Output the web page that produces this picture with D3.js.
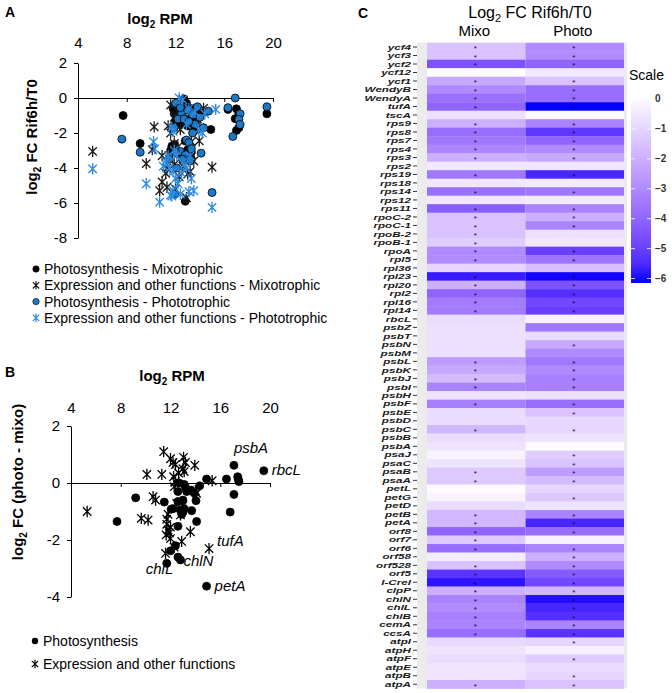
<!DOCTYPE html>
<html><head><meta charset="utf-8">
<script src="https://cdn.jsdelivr.net/npm/d3@7"></script>
<style>
body{margin:0;background:#fff;}
svg{font-family:"Liberation Sans",Arial,sans-serif;}
</style></head>
<body>
<svg id="chart" width="672" height="693"></svg>
<script>
// ---------- Panel A data: [log2 RPM, log2 FC Rif6h/T0] ----------
const photoMixoA = [[7.7,-1.0],[9.1,-2.6],[19.5,-0.9],[16.3,-0.65],[17.0,-0.62],[17.2,-0.9],[16.9,-1.18],[17.2,-1.7],[17.0,-1.85],[14.9,-1.8],[12.7,-0.05],[12.1,-0.35],[13.7,-0.75],[11.9,-0.9],[12.5,-1.5],[13.2,-1.2],[14.1,-0.85],[12.9,-0.3],[13.4,-0.6],[11.8,-0.6],[12.3,-1.0],[13.0,-1.6],[13.6,-1.3],[11.7,-2.75],[12.0,-2.9],[12.8,-2.45],[13.0,-2.95],[12.2,-3.2],[11.6,-3.0],[12.6,-3.4],[13.3,-3.1],[12.8,-5.9],[11.9,-2.65],[13.5,-1.9],[12.4,-0.7],[14.4,-0.8],[12.0,-1.3],[13.3,-3.5]];
const exprMixoA = [[5.2,-3.05],[10.25,-1.65],[9.6,-3.75],[10.1,-2.95],[10.7,-5.3],[11.3,-5.1],[15.0,-3.95],[13.95,-2.45],[13.5,-3.6],[13.0,-4.35],[12.9,-5.7],[12.6,-0.1],[11.6,-0.4],[12.2,-0.8],[14.3,-0.6],[13.8,-1.2],[11.4,-1.6],[12.4,-1.8],[11.6,-2.0],[10.9,-3.3],[11.2,-4.3],[11.9,-3.8],[12.3,-4.5],[12.6,-3.9],[11.3,-4.0],[12.0,-5.2],[13.2,-4.2],[13.6,-0.9],[12.9,-1.3],[11.9,-1.1],[13.3,-2.5],[12.2,-2.8],[11.9,-2.6],[12.9,-0.6],[14.0,-1.7],[11.5,-3.5],[10.9,-4.8]];
const photoPhotoA = [[7.6,-2.35],[9.1,-3.1],[19.5,-0.5],[16.3,-0.55],[16.9,0.0],[17.3,-0.9],[17.2,-1.22],[17.3,-1.52],[16.7,-2.2],[14.1,-3.15],[15.0,-5.4],[11.95,-5.5],[14.7,-0.75],[12.0,-0.3],[12.5,-0.9],[13.0,-0.7],[13.4,-0.95],[12.2,-1.2],[13.6,-1.5],[12.7,-1.2],[14.0,-1.1],[13.1,-1.35],[12.4,-0.55],[13.8,-0.5],[11.9,-1.7],[13.4,-2.0],[12.9,-2.4],[13.1,-2.55],[12.4,-3.05],[12.8,-3.25],[13.2,-3.6],[12.0,-3.1],[12.6,-3.5],[11.5,-3.5],[13.3,-2.9],[12.1,-4.0],[14.3,-1.7]];
const exprPhotoA = [[5.2,-4.05],[9.6,-4.9],[10.2,-2.5],[10.3,-2.9],[10.7,-5.95],[11.6,-5.55],[13.1,-5.35],[13.5,-5.3],[15.0,-6.25],[15.3,-0.65],[12.3,0.0],[12.6,-0.1],[13.1,-0.6],[14.4,-0.9],[11.7,-1.7],[11.8,-1.9],[11.9,-3.0],[11.2,-3.6],[11.0,-3.9],[11.5,-4.0],[11.8,-4.2],[12.0,-4.6],[12.2,-4.9],[11.8,-5.3],[12.5,-4.3],[12.7,-3.8],[13.2,-3.3],[13.3,-4.6],[12.4,-5.5],[12.9,-1.5],[13.9,-1.8],[14.2,-2.0],[13.6,-0.8],[11.4,-3.3],[12.9,-4.0],[11.7,-5.6],[12.1,-3.3]];
const legendA = ["Photosynthesis - Mixotrophic","Expression and other functions - Mixotrophic","Photosynthesis - Phototrophic","Expression and other functions - Phototrophic"];

// ---------- Panel B data: [log2 RPM, log2 FC (photo - mixo)] ----------
const photoB = [[17.1,0.62],[19.5,0.43],[17.4,0.22],[17.45,0.13],[17.5,0.05],[16.5,0.14],[14.9,0.14],[17.1,-0.4],[16.8,-1.02],[9.2,-0.52],[7.7,-1.35],[11.5,-0.67],[13.1,-0.05],[13.2,-0.15],[12.6,-0.3],[13.65,-0.25],[13.9,-0.35],[14.35,-0.1],[12.6,-0.65],[13.0,-0.6],[12.05,-0.92],[12.8,-0.95],[13.0,-1.02],[13.1,-0.9],[13.7,-0.97],[14.1,-1.35],[12.6,-1.52],[12.4,-2.2],[12.0,-2.38],[12.6,-2.6],[12.8,-2.7],[11.7,-2.82],[14.9,-3.62],[14.05,-0.62],[12.2,-0.9],[12.9,-1.1],[13.3,-0.3],[12.7,0.0]];
const exprB = [[5.3,-1.0],[9.65,-1.24],[10.2,-1.3],[10.1,0.3],[10.6,-0.48],[10.8,-0.6],[11.3,0.3],[11.45,1.1],[12.0,0.85],[12.2,0.72],[12.4,0.65],[12.65,0.35],[13.0,0.5],[13.05,0.9],[13.2,0.72],[13.95,0.62],[12.25,0.22],[12.4,0.05],[12.3,-0.13],[15.35,0.08],[12.5,-0.72],[14.0,-0.27],[14.1,-0.36],[11.7,-1.27],[11.7,-1.45],[11.8,-1.65],[11.65,-1.82],[11.9,-1.75],[12.8,-1.12],[13.6,-1.71],[12.9,-2.05],[12.3,-2.25],[11.6,-2.47],[15.1,-2.3],[11.8,-1.1],[12.0,-1.55],[13.1,0.4],[12.0,-1.95],[13.0,-0.8]];
const labelsB = [{t:"psbA",x:17.1,y:0.62},{t:"rbcL",x:19.5,y:0.43},{t:"tufA",x:15.1,y:-2.3},{t:"chlN",x:12.8,y:-2.7},{t:"chlL",x:11.7,y:-2.82},{t:"petA",x:14.9,y:-3.62}];
const legendB = ["Photosynthesis","Expression and other functions"];

// ---------- Panel C data ----------
const genes = ["ycf4","ycf3","ycf2","ycf12","ycf1","WendyB","WendyA","tufA","tscA","rps9","rps8","rps7","rps4","rps3","rps2","rps19","rps18","rps14","rps12","rps11","rpoC-2","rpoC-1","rpoB-2","rpoB-1","rpoA","rpl5","rpl36","rpl23","rpl20","rpl2","rpl16","rpl14","rbcL","psbZ","psbT","psbN","psbM","psbL","psbK","psbJ","psbI","psbH","psbF","psbE","psbD","psbC","psbB","psbA","psaJ","psaC","psaB","psaA","petL","petG","petD","petB","petA","orf8","orf7","orf6","orf58","orf528","orf5","I-CreI","clpP","chlN","chlL","chlB","cemA","ccsA","atpI","atpH","atpF","atpE","atpB","atpA"];
const fcMixo = [-1.5,-1.5,-4.5,0.05,-2.2,-3.0,-3.7,-4.0,-0.7,-2.0,-3.8,-3.5,-3.1,-2.0,-0.5,-3.5,-0.5,-3.7,-0.5,-4.2,-1.5,-1.5,-1.5,-1.2,-3.0,-3.0,-1.0,-5.8,-2.0,-4.0,-3.4,-3.4,-0.8,-0.7,-0.7,-0.7,-0.7,-2.5,-2.2,-1.7,-3.2,-0.6,-3.3,-0.8,-0.8,-1.8,-0.8,-0.6,-0.2,-0.6,-1.3,-1.3,0.0,-0.2,-0.8,-1.8,-1.8,-4.0,-1.3,-3.8,-0.4,-1.5,-5.3,-5.9,-2.0,-3.2,-3.0,-3.3,-3.2,-3.8,-0.9,-0.6,-0.8,-0.6,-0.6,-2.0];
const fcPhoto = [-3.0,-3.0,-4.0,-0.5,-1.5,-3.8,-3.8,-6.3,0.0,-3.2,-5.2,-4.0,-3.0,-2.2,-0.5,-5.6,-0.4,-3.5,-0.4,-3.2,-2.0,-3.2,-0.7,-0.5,-5.0,-3.6,-1.6,-6.1,-4.5,-5.4,-4.8,-5.0,-0.2,-3.5,-0.8,-2.2,-3.0,-3.5,-3.0,-3.3,-3.3,-0.7,-3.8,-1.5,-0.9,-1.0,-0.6,0.0,-1.2,-1.5,-2.5,-1.7,-1.0,-1.3,-0.6,-3.2,-5.6,-3.8,-0.3,-3.2,-2.0,-3.0,-4.3,-4.8,-1.8,-6.0,-5.6,-5.4,-3.2,-5.3,-1.0,-0.3,-1.2,-0.8,-1.0,-1.5];
const sigMixo = [1,1,1,0,1,1,1,1,0,1,1,1,1,1,0,1,0,1,0,1,1,1,1,1,1,1,0,1,1,1,1,1,0,0,0,0,0,1,1,1,1,0,1,0,0,1,0,0,0,0,1,1,0,0,0,1,1,1,1,1,0,1,1,1,1,1,1,1,1,1,0,0,0,0,0,1];
const sigPhoto = [1,1,1,0,1,1,1,1,0,1,1,1,1,1,0,1,0,1,0,1,1,1,0,0,1,1,0,1,1,1,1,1,0,0,0,1,0,1,1,1,1,0,1,1,0,1,0,0,1,1,1,1,0,1,0,1,1,1,0,1,1,1,1,1,1,1,1,1,1,1,1,0,1,0,1,1];
const conditions = ["Mixo","Photo"];
const scaleTicks = [0,-1,-2,-3,-4,-5,-6];

// ---------- drawing ----------
const svg = d3.select("#chart");
const fmt = d => String(d);
const starPath = s => `M${-s},${-s}L${s},${s}M${-s},${s}L${s},${-s}M0,${-s*1.35}L0,${s*1.35}`;
const blueDot = "#1f78c4", blueStar = "#2a8ae0";

function drawScatter(cfg){
  const g = svg.append("g");
  const x = d3.scaleLinear([4,20],[cfg.x0,cfg.x1]);
  const y = d3.scaleLinear(cfg.ydom,[cfg.yb,cfg.yt]);
  const top = g.append("g").attr("transform",`translate(0,${cfg.labY})`)
    .call(d3.axisTop(x).tickValues([4,8,12,16,20]).tickSize(0).tickPadding(0).tickFormat(fmt));
  top.select(".domain").remove();
  top.selectAll("text").attr("font-size",15).attr("fill","#000").attr("font-family","Liberation Sans, Arial");
  const zx = g.append("g").attr("transform",`translate(0,${y(0)})`)
    .call(d3.axisBottom(x).tickValues([8,12,16,20]).tickSizeInner(4).tickSizeOuter(0).tickFormat(""));
  zx.select(".domain").attr("stroke","#000");
  const ya = g.append("g").attr("transform",`translate(${cfg.x0},0)`)
    .call(d3.axisLeft(y).tickValues(cfg.yticks).tickSizeInner(4).tickSizeOuter(0).tickPadding(7).tickFormat(fmt));
  ya.selectAll("text").attr("font-size",15).attr("fill","#000").attr("font-family","Liberation Sans, Arial");
  const t = g.append("text").attr("x",cfg.titleX).attr("y",cfg.titleY).attr("text-anchor","middle")
    .attr("font-weight","bold").attr("font-size",15);
  t.append("tspan").text("log");
  t.append("tspan").attr("font-size",10).attr("dy",4).text("2");
  t.append("tspan").attr("dy",-4).text(" RPM");
  const yt = g.append("text").attr("transform",`translate(${cfg.ytX},${cfg.ytY}) rotate(-90)`)
    .attr("text-anchor","middle").attr("font-weight","bold").attr("font-size",15);
  yt.append("tspan").text("log");
  yt.append("tspan").attr("font-size",10).attr("dy",4).text("2");
  yt.append("tspan").attr("dy",-4).text(cfg.yTitle);
  g.append("text").attr("x",5).attr("y",cfg.letterY).attr("font-weight","bold").attr("font-size",14).text(cfg.letter);
  return {g,x,y};
}

// Panel A
const A = drawScatter({x0:78,x1:273,ydom:[-8,2],yb:238,yt:63,labY:48,yticks:[2,0,-2,-4,-6,-8],
  titleX:160,titleY:24,ytX:37,ytY:137,yTitle:" FC Rif6h/T0",letter:"A",letterY:17});
function dots(p,data,fill,stroke,r){
  p.g.append("g").selectAll("circle").data(data).join("circle")
    .attr("cx",d=>p.x(d[0])).attr("cy",d=>p.y(d[1])).attr("r",r).attr("fill",fill).attr("stroke",stroke).attr("stroke-width",0.8);
}
function stars(p,data,color,s){
  p.g.append("g").selectAll("path").data(data).join("path")
    .attr("transform",d=>`translate(${p.x(d[0])},${p.y(d[1])})`).attr("d",starPath(s))
    .attr("fill","none").attr("stroke",color).attr("stroke-width",1.3);
}
dots(A,photoMixoA,"#000","#000",4);
stars(A,exprMixoA,"#1a1a1a",4.2);
dots(A,photoPhotoA,blueDot,"#000",4);
stars(A,exprPhotoA,blueStar,4.2);

const lgA = svg.append("g");
legendA.forEach((t,i)=>{
  const yy = 269 + i*16.3;
  if(i%2===0) lgA.append("circle").attr("cx",36).attr("cy",yy).attr("r",3.2).attr("fill",i===0?"#000":blueDot).attr("stroke","#000").attr("stroke-width",0.6);
  else lgA.append("path").attr("transform",`translate(36,${yy})`).attr("d",starPath(3.2)).attr("stroke",i===1?"#1a1a1a":blueStar).attr("stroke-width",1.2).attr("fill","none");
  lgA.append("text").attr("x",44).attr("y",yy+5).attr("font-size",14).text(t);
});

// Panel B
const B = drawScatter({x0:71,x1:270,ydom:[-4,2],yb:597,yt:426,labY:413,yticks:[2,0,-2,-4],
  titleX:172,titleY:381,ytX:23,ytY:482,yTitle:" FC (photo - mixo)",letter:"B",letterY:377});
stars(B,exprB,"#000",4.2);
dots(B,photoB,"#000","#000",4);
const offs = {psbA:[0,-12],rbcL:[8,4],tufA:[8,-3],chlN:[3,6],chlL:[-21,11],petA:[8,5]};
B.g.append("g").selectAll("text").data(labelsB).join("text")
  .attr("x",d=>B.x(d.x)+offs[d.t][0]).attr("y",d=>B.y(d.y)+offs[d.t][1])
  .attr("font-style","italic").attr("font-size",15).text(d=>d.t);
const lgB = svg.append("g");
legendB.forEach((t,i)=>{
  const yy = 641 + i*23;
  if(i===0) lgB.append("circle").attr("cx",35).attr("cy",yy).attr("r",3.2).attr("fill","#000");
  else lgB.append("path").attr("transform",`translate(35,${yy})`).attr("d",starPath(3.2)).attr("stroke","#000").attr("stroke-width",1.2).attr("fill","none");
  lgB.append("text").attr("x",43).attr("y",yy+5).attr("font-size",14).text(t);
});

// Panel C heatmap
const C = svg.append("g");
const xH = d3.scaleBand().domain(conditions).range([427,624]);
const yH = d3.scaleBand().domain(genes).range([42.75,688.5]);
const color = d3.scaleLinear().domain([-6.15,0.1]).range(["#0000ff","#ffffff"]).interpolate(d3.interpolateLab).clamp(true);
C.append("rect").attr("x",417).attr("y",42.75).attr("width",210).attr("height",645.75).attr("fill","#ebebeb");
const cells = [];
genes.forEach((g,i)=>{
  cells.push({g,c:"Mixo",v:fcMixo[i],s:sigMixo[i]});
  cells.push({g,c:"Photo",v:fcPhoto[i],s:sigPhoto[i]});
});
C.append("g").selectAll("rect").data(cells).join("rect")
  .attr("x",d=>xH(d.c)).attr("y",d=>yH(d.g)).attr("width",xH.bandwidth()).attr("height",yH.bandwidth()+0.3)
  .attr("fill",d=>color(d.v));
C.append("g").selectAll("text").data(cells.filter(d=>d.s)).join("text")
  .attr("x",d=>xH(d.c)+xH.bandwidth()/2-1).attr("y",d=>yH(d.g)+yH.bandwidth()/2+4.5)
  .attr("text-anchor","middle").attr("font-size",8).attr("fill","#111").text("*");
const yax = C.append("g").attr("transform","translate(417,0)")
  .call(d3.axisLeft(yH).tickSizeInner(4).tickSizeOuter(0).tickPadding(2));
yax.select(".domain").remove();
yax.selectAll("line").attr("stroke","#333");
yax.selectAll("text").attr("x",null).attr("dy","0.36em")
  .attr("transform","translate(-6,0) scale(1.6,1)")
  .attr("font-size",7.3).attr("font-weight","bold").attr("font-style","italic").attr("fill","#1a1a1a").attr("font-family","Liberation Sans, Arial");
const ct = C.append("text").attr("x",530).attr("y",18).attr("text-anchor","middle").attr("font-size",16);
ct.append("tspan").text("Log");
ct.append("tspan").attr("font-size",11).attr("dy",4).text("2");
ct.append("tspan").attr("dy",-4).text(" FC Rif6h/T0");
C.append("g").selectAll("text").data(conditions).join("text")
  .attr("x",d=>xH(d)+xH.bandwidth()/2-2).attr("y",36).attr("text-anchor","middle").attr("font-size",15).text(d=>d);
C.append("text").attr("x",358).attr("y",18).attr("font-weight","bold").attr("font-size",14).text("C");

// colorbar
const cbY = d3.scaleLinear().domain([-6.15,0.1]).range([283,96]);
const defs = svg.append("defs");
const grad = defs.append("linearGradient").attr("id","cb").attr("x1",0).attr("y1",1).attr("x2",0).attr("y2",0);
d3.range(0,1.0001,0.1).forEach(t=>{
  grad.append("stop").attr("offset",t).attr("stop-color",color(-6.15+t*6.25));
});
C.append("rect").attr("x",631).attr("y",96).attr("width",20).attr("height",187).attr("fill","url(#cb)");
C.append("g").selectAll("line.l").data(scaleTicks).join("line")
  .attr("x1",631).attr("x2",635).attr("y1",d=>cbY(d)).attr("y2",d=>cbY(d)).attr("stroke","#fff").attr("stroke-width",0.8);
C.append("g").selectAll("line.r").data(scaleTicks).join("line")
  .attr("x1",647).attr("x2",651).attr("y1",d=>cbY(d)).attr("y2",d=>cbY(d)).attr("stroke","#fff").attr("stroke-width",0.8);
C.append("g").selectAll("text").data(scaleTicks).join("text")
  .attr("x",655).attr("y",d=>cbY(d)+3.5).attr("font-size",10).attr("font-weight","bold").attr("fill","#333")
  .text(d=>d===0?"0":"\u2212"+Math.abs(d));
C.append("text").attr("x",629).attr("y",80).attr("font-size",14).text("Scale");
</script>
</body></html>
